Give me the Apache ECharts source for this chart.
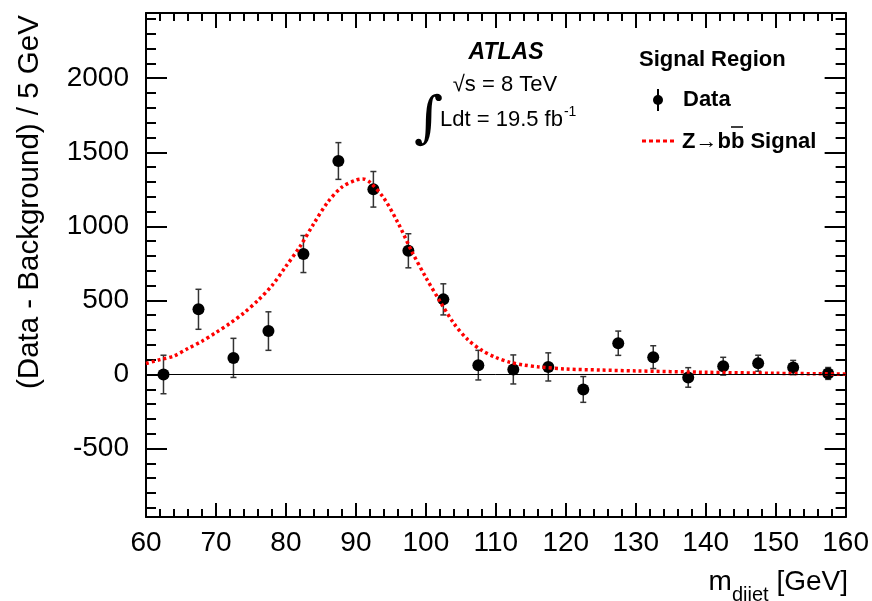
<!DOCTYPE html>
<html>
<head>
<meta charset="utf-8">
<script src="https://cdn.jsdelivr.net/npm/echarts@6/dist/echarts.min.js"></script>
<style>
  html, body { margin: 0; padding: 0; background: #fff; }
  #chart { width: 872px; height: 601px; }
</style>
</head>
<body>
<div id="chart"></div>
<script>
// Bin centres (GeV) and background-subtracted data with errors
const massBins = [62.5, 67.5, 72.5, 77.5, 82.5, 87.5, 92.5, 97.5, 102.5, 107.5,
                  112.5, 117.5, 122.5, 127.5, 132.5, 137.5, 142.5, 147.5, 152.5, 157.5];
const dataValues = [0, 440, 112, 293, 813, 1441, 1250, 835, 507, 63,
                    34, 51, -101, 211, 117, -20, 56, 76, 47, 7];
const dataErrors = [130, 135, 132, 130, 125, 124, 120, 115, 105, 100,
                    98, 95, 87, 82, 77, 66, 60, 54, 48, 40];

// Z -> bb signal curve
const signalMass = [60, 62, 64, 66, 68, 70, 72, 74, 76, 78, 80, 82, 84, 86, 88, 90, 91, 92,
                    94, 96, 98, 100, 102, 104, 106, 108, 110, 112, 114, 116, 120, 125, 130, 140, 150, 160];
const signalValues = [74, 100, 125, 175, 225, 283, 345, 416, 500, 600, 730, 863, 1020, 1165, 1265, 1312, 1320, 1298,
                      1190, 1025, 830, 655, 495, 345, 235, 163, 115, 82, 64, 52, 37, 30, 24, 15, 8, 3];

// Axis ticks
const yMajorTicks = [-500, 0, 500, 1000, 1500, 2000];
const yMinorTicks = [];
for (let v = -900; v <= 2400; v += 100) yMinorTicks.push(v);
const yMin = -962, yMax = 2440;

const FONT = 'Liberation Sans';
const chart = echarts.init(document.getElementById('chart'));

const errData = massBins.map((m, i) => [m, dataValues[i], dataErrors[i]]);

// y axes: major/minor ticks on left and right (ROOT style frame)
const makeY = (pos, ticks, len, labels, line) => ({
    type: 'value', position: pos, min: yMin, max: yMax,
    axisLine: { show: line, onZero: false, lineStyle: { color: '#000', width: 2 } },
    axisTick: { show: true, inside: true, length: len, customValues: ticks,
                lineStyle: { color: '#000', width: 2 } },
    axisLabel: labels ? { show: true, customValues: yMajorTicks, fontFamily: FONT, fontSize: 28,
                          color: '#000', margin: 17, formatter: v => String(v) } : { show: false },
    splitLine: { show: false }
});

const makeX = (pos, labels) => ({
    type: 'value', position: pos, min: 60, max: 160, interval: 10,
    axisLine: { show: true, onZero: false, lineStyle: { color: '#000', width: 2 } },
    axisTick: { show: true, inside: true, length: labels ? 14 : 15, lineStyle: { color: '#000', width: 2 } },
    minorTick: { show: true, splitNumber: 5, length: 8, lineStyle: { color: '#000', width: 2 } },
    axisLabel: labels ? { show: true, fontFamily: FONT, fontSize: 28, color: '#000', margin: 12 } : { show: false },
    splitLine: { show: false }
});

chart.setOption({
    animation: false,
    backgroundColor: '#fff',
    grid: { left: 146, right: 25, top: 13, bottom: 84 },
    xAxis: [makeX('bottom', true), makeX('top', false)],
    yAxis: [
        makeY('left', yMajorTicks, 21, true, true),
        makeY('left', yMinorTicks, 10, false, false),
        makeY('right', yMajorTicks, 21, false, true),
        makeY('right', yMinorTicks, 10, false, false)
    ],
    series: [
        {
            // error bars
            type: 'custom',
            data: errData,
            z: 2,
            renderItem: function (params, api) {
                const x = api.value(0), y = api.value(1), e = api.value(2);
                const top = api.coord([x, y + e]);
                const bot = api.coord([x, y - e]);
                const cap = 3;
                const st = { stroke: '#333', lineWidth: 1.5 };
                return {
                    type: 'group',
                    children: [
                        { type: 'line', shape: { x1: top[0], y1: top[1], x2: bot[0], y2: bot[1] }, style: st },
                        { type: 'line', shape: { x1: top[0] - cap, y1: top[1], x2: top[0] + cap, y2: top[1] }, style: st },
                        { type: 'line', shape: { x1: bot[0] - cap, y1: bot[1], x2: bot[0] + cap, y2: bot[1] }, style: st }
                    ]
                };
            }
        },
        {
            name: 'Data',
            type: 'scatter',
            data: massBins.map((m, i) => [m, dataValues[i]]),
            symbol: 'circle',
            symbolSize: 12,
            itemStyle: { color: '#000', opacity: 1 },
            z: 3,
            markLine: {
                silent: true,
                symbol: 'none',
                label: { show: false },
                lineStyle: { color: '#000', width: 1, type: 'solid' },
                data: [{ yAxis: 0 }]
            }
        },
        {
            name: 'Z→bb Signal',
            type: 'line',
            data: signalMass.map((m, i) => [m, signalValues[i]]),
            smooth: 0.3,
            showSymbol: false,
            lineStyle: { color: '#ff0000', width: 3.5, type: [3, 3] },
            z: 4
        }
    ],
    graphic: [
        // axis titles
        {
            type: 'text', x: 30, y: 389, rotation: Math.PI / 2,
            style: { text: '(Data - Background) / 5 GeV', font: '29.5px "Liberation Sans"', fill: '#000',
                     align: 'left', verticalAlign: 'middle' }
        },
        {
            type: 'text', x: 848, y: 596,
            style: {
                text: '{m|m}{s|dijet}{m| [GeV]}', align: 'right', verticalAlign: 'bottom', fill: '#000',
                rich: {
                    m: { fontFamily: FONT, fontSize: 28, fill: '#000', verticalAlign: 'bottom' },
                    s: { fontFamily: FONT, fontSize: 20, fill: '#000', verticalAlign: 'bottom', padding: [0, 0, -9, 0] }
                }
            }
        },
        // ATLAS label block
        {
            type: 'text', x: 506, y: 53,
            style: { text: 'ATLAS', font: 'italic bold 23px "Liberation Sans"', fill: '#000',
                     align: 'center', verticalAlign: 'middle' }
        },
        {
            type: 'text', x: 505, y: 85,
            style: { text: '√s = 8 TeV', font: '22px "Liberation Sans"', fill: '#000',
                     align: 'center', verticalAlign: 'middle' }
        },
        {
            type: 'text', x: 414, y: 121,
            style: { text: '∫', font: '56px "DejaVu Serif"', fill: '#000',
                     align: 'left', verticalAlign: 'middle' }
        },
        {
            type: 'text', x: 440, y: 118,
            style: {
                text: '{a|Ldt = 19.5 fb}{b|-1}', align: 'left', verticalAlign: 'middle', fill: '#000',
                rich: {
                    a: { fontFamily: FONT, fontSize: 22, fill: '#000', lineHeight: 26, verticalAlign: 'bottom' },
                    b: { fontFamily: FONT, fontSize: 14, fill: '#000', verticalAlign: 'top', padding: [0, 0, 0, 1] }
                }
            }
        },
        // legend
        {
            type: 'text', x: 639, y: 60,
            style: { text: 'Signal Region', font: 'bold 22px "Liberation Sans"', fill: '#000',
                     align: 'left', verticalAlign: 'middle' }
        },
        { type: 'line', shape: { x1: 658, y1: 89, x2: 658, y2: 111 }, style: { stroke: '#000', lineWidth: 2 } },
        { type: 'circle', shape: { cx: 658, cy: 100, r: 5 }, style: { fill: '#000' } },
        {
            type: 'text', x: 683, y: 100,
            style: { text: 'Data', font: 'bold 22px "Liberation Sans"', fill: '#000',
                     align: 'left', verticalAlign: 'middle' }
        },
        { type: 'line', shape: { x1: 642, y1: 141, x2: 676, y2: 141 },
          style: { stroke: '#ff0000', lineWidth: 3, lineDash: [4, 3] } },
        {
            type: 'text', x: 682, y: 142,
            style: { text: 'Z→bb Signal', font: 'bold 22px "Liberation Sans"', fill: '#000',
                     align: 'left', verticalAlign: 'middle' }
        },
        { type: 'line', shape: { x1: 731, y1: 127, x2: 743, y2: 127 }, style: { stroke: '#000', lineWidth: 1.5 } }
    ]
});
</script>
</body>
</html>
